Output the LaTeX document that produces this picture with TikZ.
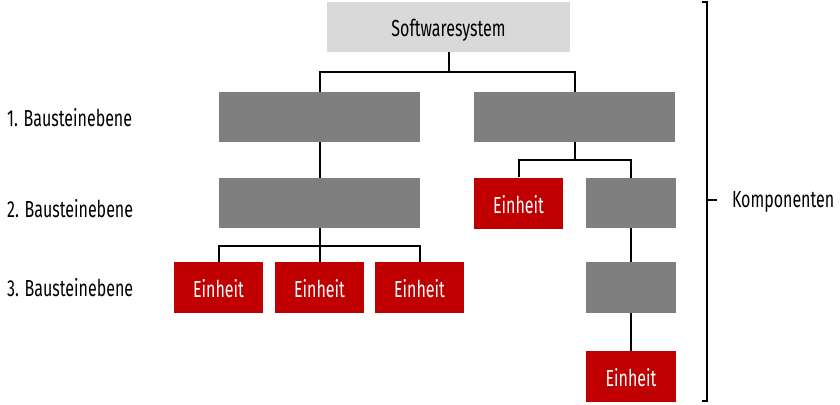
\documentclass[tikz,border=0pt]{standalone}
\usepackage{fontspec}
\setmainfont[FakeStretch=0.69]{Fira Sans}
\definecolor{boxgray}{HTML}{7F7F7F}
\definecolor{boxred}{HTML}{C00000}
\definecolor{boxlight}{HTML}{D9D9D9}
\begin{document}
\begin{tikzpicture}[x=1pt,y=-1pt,
  font=\fontsize{23.2}{26}\selectfont,
  conn/.style={line width=2pt,draw=black},
  base/.style={rectangle,inner sep=0pt,minimum width=201pt,minimum height=50pt,text height=20pt,text depth=0pt},
  graybox/.style={base,fill=boxgray},
  redbox/.style={base,fill=boxred,text=white,minimum width=89pt,minimum height=51pt},
  topbox/.style={base,fill=boxlight,minimum width=243pt},
  lbl/.style={anchor=west,inner sep=0pt,text height=15.5pt,text depth=0pt}]
\useasboundingbox (0,0) rectangle (840,404);
\node[topbox] (soft) at (448.5,27) {Softwaresystem};
\node[graybox] (l1a) at (319.5,117) {};
\node[graybox] (l1b) at (574.5,117) {};
\node[graybox] (l2a) at (319.5,203) {};
\node[redbox] (er1) at (518.5,203) {Einheit};
\node[graybox,minimum width=90pt] (gr1) at (631,203) {};
\node[graybox,minimum width=90pt,minimum height=51pt] (gr2) at (631,287.5) {};
\node[redbox,minimum width=90pt] (er2) at (631,376.5) {Einheit};
\node[redbox] (e1) at (218.5,287.5) {Einheit};
\node[redbox] (e2) at (319.5,287.5) {Einheit};
\node[redbox] (e3) at (419.5,287.5) {Einheit};
\coordinate (j0) at (448.5,72);
\coordinate (j1) at (574.5,160);
\coordinate (j2) at (319.5,246);
\draw[conn] (soft.south) -- (j0);
\draw[conn] (l1a.north) |- (j0) -| (l1b.north);
\draw[conn] (l1a.south) -- (l2a.north);
\draw[conn] (l1b.south) -- (j1);
\draw[conn] (er1.north) |- (j1) -| (gr1.north);
\draw[conn] (gr1.south) -- (gr2.north);
\draw[conn] (gr2.south) -- (er2.north);
\draw[conn] (l2a.south) -- (j2);
\draw[conn] (e1.north) |- (j2) -| (e3.north);
\draw[conn] (j2) -- (e2.north);
\node[lbl] (t1) at (7,119) {1. Bausteinebene};
\node[lbl] (t2) at (7,210) {2. Bausteinebene};
\node[lbl] (t3) at (7,289) {3. Bausteinebene};
\coordinate (bt) at (702,2);
\coordinate (bb) at (702,401);
\coordinate (bm) at (707,200);
\draw[conn] (bt) -- (707,2) -- (707,401) -- (bb);
\draw[conn] (bm) -- ++(10,0) node[lbl,anchor=west,xshift=14pt] (komp) {Komponenten};
\end{tikzpicture}
\end{document}
